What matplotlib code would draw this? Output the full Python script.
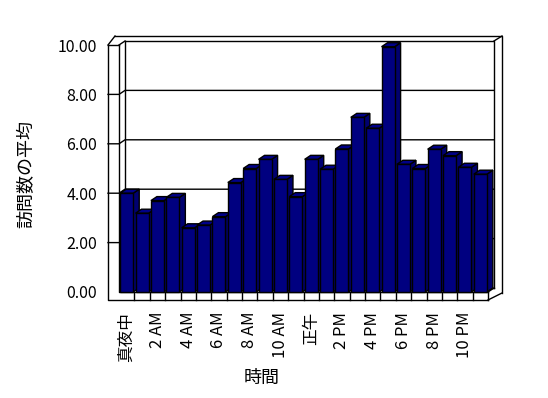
import matplotlib
matplotlib.use('Agg')
import matplotlib.pyplot as plt
from matplotlib.patches import Polygon
from matplotlib.lines import Line2D

plt.rcParams['font.family'] = ['Noto Sans CJK JP', 'DejaVu Sans']

# 1時間ごとの訪問数の平均
hours = list(range(24))
visits = [4.00, 3.19, 3.70, 3.83, 2.60, 2.71, 3.05, 4.43, 5.00, 5.37, 4.56, 3.86,
          5.37, 4.97, 5.79, 7.07, 6.63, 9.93, 5.17, 5.00, 5.78, 5.52, 5.05, 4.77]
tick_pos = list(range(0, 24, 2))
tick_labels = ['真夜中', '2 AM', '4 AM', '6 AM', '8 AM', '10 AM',
               '正午', '2 PM', '4 PM', '6 PM', '8 PM', '10 PM']
y_ticks = [0, 2, 4, 6, 8, 10]

W, H = 548, 398
fig = plt.figure(figsize=(W / 100, H / 100), dpi=100)
fig.patch.set_facecolor('white')

# front plane in pixels: x 119..488, y 45 (10) .. 292 (0)
ax = fig.add_axes([119 / W, (H - 292) / H, (488 - 119) / W, (292 - 45) / H])
ax.set_xlim(-0.5, 23.5)
ax.set_ylim(0, 10)
for s in ax.spines.values():
    s.set_visible(False)
ax.patch.set_visible(False)

px_x = 369 / 24.0
px_y = 247 / 10.0
DX = 6 / px_x      # depth offset
DY = 4 / px_y
WX = 11 / px_x     # left wall thickness
FY = 8 / px_y      # floor thickness
OX = 8 / px_x      # back wall thickness
OY = 5 / px_y

x_l = -0.5
x_r = 23.5

def seg(xs, ys, z=1):
    ax.add_line(Line2D(xs, ys, color='black', lw=1, clip_on=False, zorder=z))

# back wall
seg([x_l + DX, x_r + DX, x_r + DX], [10 + DY, 10 + DY, DY])
seg([x_l + DX, x_l + DX], [10 + DY, DY])
seg([x_l + DX, x_r + DX], [DY, DY])
# back wall outer edge
top_o = 10 + DY + OY
seg([x_l - WX + 7 / px_x, x_r + DX + OX, x_r + DX + OX],
    [top_o, top_o, -FY + 7 / px_y])
seg([x_r + DX, x_r + DX + OX], [10 + DY, top_o])
# left wall
seg([x_l - WX, x_l - WX, x_r], [10, -FY, -FY], z=2)
seg([x_l, x_l, x_r], [10, 0, 0], z=2)
seg([x_l - WX, x_l], [10, 10], z=2)
seg([x_l - WX, x_l - WX + 7 / px_x], [10, top_o])
seg([x_l, x_l + DX], [10, 10 + DY])
# floor right side
seg([x_r, x_r + DX + OX], [-FY, -FY + 7 / px_y])
seg([x_r, x_r + DX], [0, DY])
# floor ticks
for i in range(1, 25):
    seg([x_l + i, x_l + i], [0, -FY], z=2)

# gridlines and ticks on wall
for yv in y_ticks[1:-1]:
    seg([x_l - WX, x_l, x_l + DX, x_r + DX], [yv, yv, yv + DY, yv + DY])

# bars
bw = 0.85
navy = '#000080'
bars = ax.bar(hours, visits, width=bw, color=navy, edgecolor='black', lw=1)
for i, (p, v) in enumerate(zip(bars.patches, visits)):
    z = 3 + i * 0.01
    p.set_zorder(z)
    p.set_clip_on(False)
    x0 = i - bw / 2
    x1 = i + bw / 2
    side = Polygon([(x1, 0), (x1 + DX, DY), (x1 + DX, v + DY), (x1, v)],
                   closed=True, facecolor='#000070', edgecolor='black',
                   lw=1, zorder=z - 0.001, clip_on=False)
    top = Polygon([(x0, v), (x1, v), (x1 + DX, v + DY), (x0 + DX, v + DY)],
                  closed=True, facecolor='#000088', edgecolor='black',
                  lw=1, zorder=z - 0.001, clip_on=False)
    ax.add_patch(side)
    ax.add_patch(top)

ax.set_yticks(y_ticks)
ax.set_yticklabels(['%.2f' % t for t in y_ticks], fontsize=11.5)
ax.set_xticks(tick_pos)
ax.set_xticklabels(tick_labels, rotation=90, fontsize=12, va='top')
ax.tick_params(axis='y', length=0, pad=22 / 100 * 72)
ax.tick_params(axis='x', length=0, pad=20 / 100 * 72)

ax.set_xlabel('時間', fontsize=13, va='center')
ax.xaxis.set_label_coords((262 - 119) / 369, (292 - 378) / 247)
ax.set_ylabel('訪問数の平均', fontsize=13, va='center')
ax.yaxis.set_label_coords((26 - 119) / 369, (292 - 174) / 247)

fig.savefig('out.png', dpi=100)
